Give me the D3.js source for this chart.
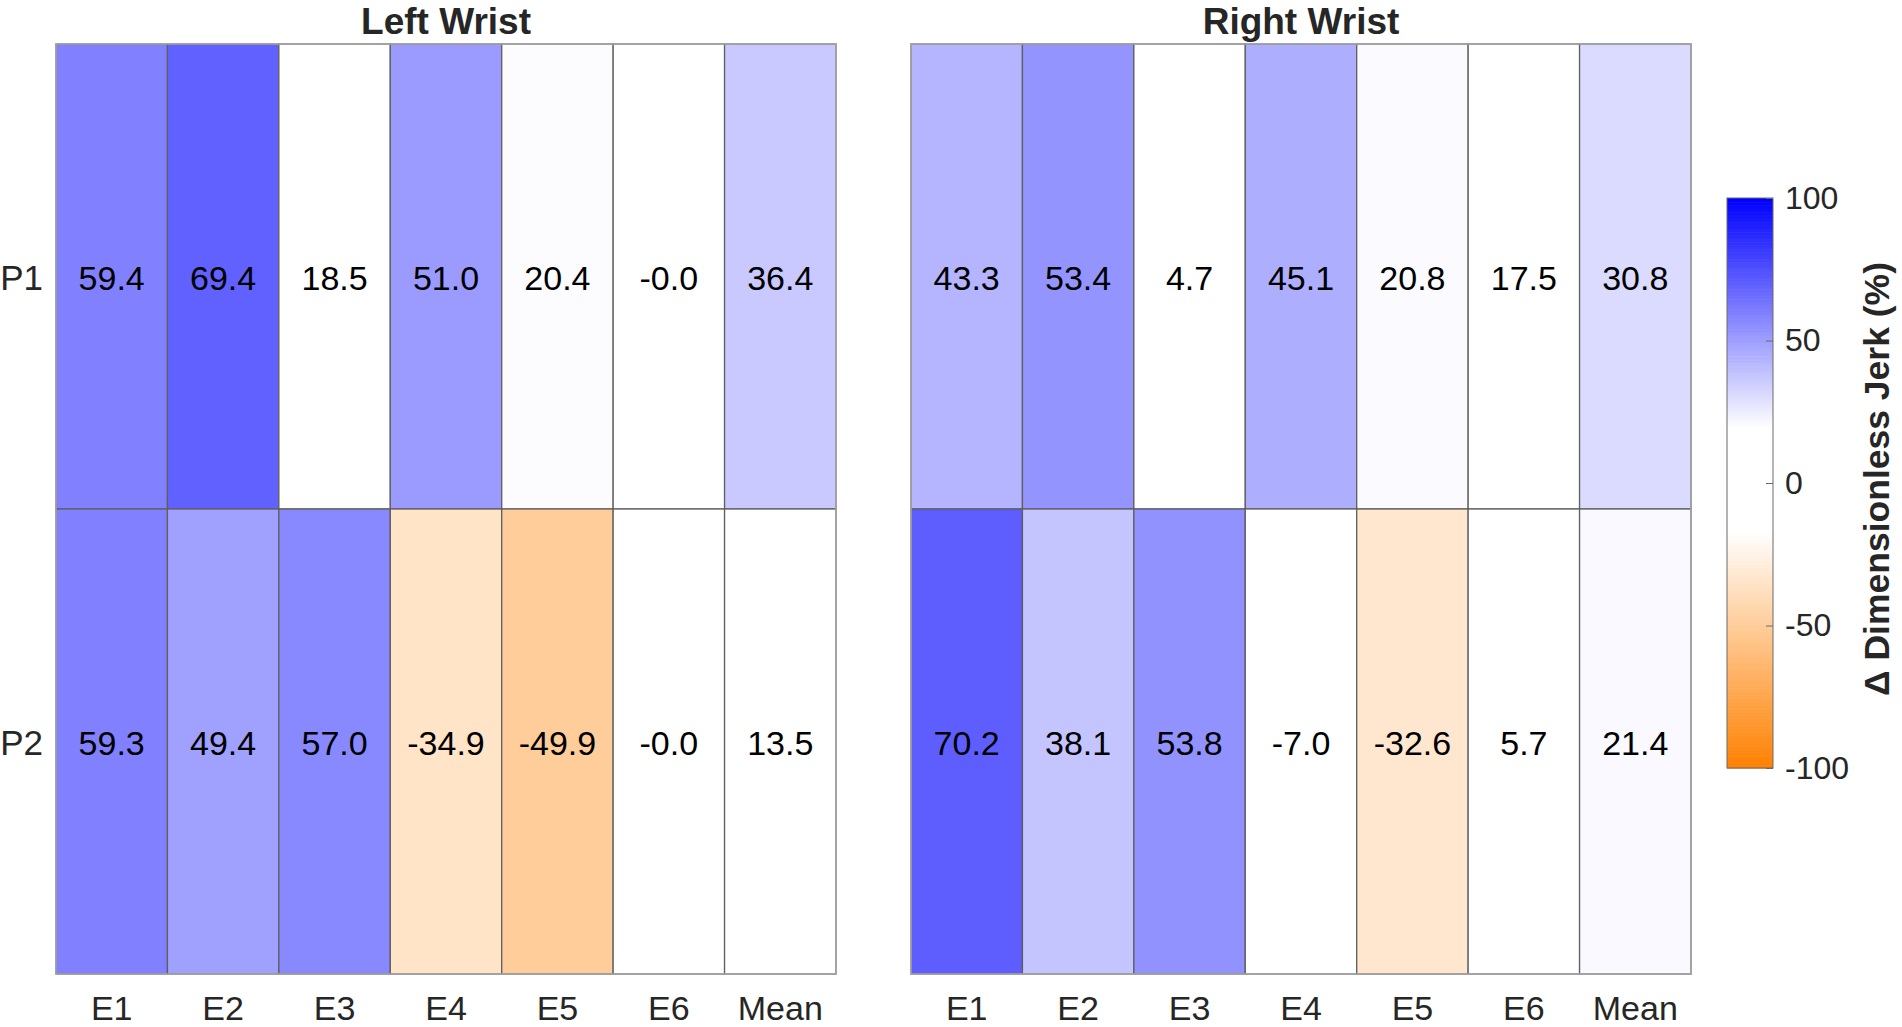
<!DOCTYPE html>
<html>
<head>
<meta charset="utf-8">
<script src="https://cdn.jsdelivr.net/npm/d3@7"></script>
<style>
  body { margin: 0; background: #fff; }
  text { font-family: "Liberation Sans", Arial, sans-serif; }
</style>
</head>
<body>
<svg id="chart" width="1902" height="1027"></svg>
<script>
// data
EXERCISES = ["E1", "E2", "E3", "E4", "E5", "E6", "Mean"]
PARTICIPANTS = ["P1", "P2"]
LEFT_P1 = [59.4, 69.4, 18.5, 51.0, 20.4, -0.0, 36.4]
LEFT_P2 = [59.3, 49.4, 57.0, -34.9, -49.9, -0.0, 13.5]
RIGHT_P1 = [43.3, 53.4, 4.7, 45.1, 20.8, 17.5, 30.8]
RIGHT_P2 = [70.2, 38.1, 53.8, -7.0, -32.6, 5.7, 21.4]
COLORBAR_TICKS = [100, 50, 0, -50, -100]

PANELS = [
  {title: "Left Wrist", rows: [LEFT_P1, LEFT_P2], x0: 56},
  {title: "Right Wrist", rows: [RIGHT_P1, RIGHT_P2], x0: 911}
]

var svg = d3.select("#chart")
var panelWidth = 780
var gridTop = 44, gridBottom = 974

// blue / white / orange map, white band around zero
var color = d3.scaleLinear()
  .domain([-100, -17, 19.5, 100])
  .range(["#ff8000", "#ffffff", "#ffffff", "#0000ff"])
  .clamp(true)

function fmt(v) {
  var s = Math.abs(v).toFixed(1)
  return (v < 0 || Object.is(v, -0)) ? "-" + s : s
}

var y = d3.scaleBand().domain(PARTICIPANTS).range([gridTop, gridBottom])

PANELS.forEach(function(panel) {
  var x = d3.scaleBand().domain(EXERCISES).range([panel.x0, panel.x0 + panelWidth])
  var cells = []
  panel.rows.forEach(function(vals, r) {
    vals.forEach(function(v, c) {
      cells.push({row: PARTICIPANTS[r], col: EXERCISES[c], value: v})
    })
  })

  var g = svg.append("g")

  g.selectAll("rect.cell")
    .data(cells)
    .enter()
    .append("rect")
      .attr("class", "cell")
      .attr("x", function(d) { return x(d.col) })
      .attr("y", function(d) { return y(d.row) })
      .attr("width", x.bandwidth())
      .attr("height", y.bandwidth())
      .attr("fill", function(d) { return color(d.value) })
      .style("stroke", "#5f5f5f")
      .style("stroke-width", 1.3)

  g.append("rect")
    .attr("x", panel.x0)
    .attr("y", gridTop)
    .attr("width", panelWidth)
    .attr("height", gridBottom - gridTop)
    .attr("fill", "none")
    .style("stroke", "#a8a8a8")
    .style("stroke-width", 1.5)

  g.selectAll("text.val")
    .data(cells)
    .enter()
    .append("text")
      .attr("class", "val")
      .attr("x", function(d) { return x(d.col) + x.bandwidth() / 2 })
      .attr("y", function(d) { return y(d.row) + y.bandwidth() / 2 + 13 })
      .attr("text-anchor", "middle")
      .style("font-size", "34px")
      .style("fill", "#000")
      .text(function(d) { return fmt(d.value) })

  // x axis
  var xAxis = g.append("g")
    .attr("transform", "translate(0," + gridBottom + ")")
    .call(d3.axisBottom(x).tickSize(0).tickPadding(22))
  xAxis.select(".domain").remove()
  xAxis.selectAll("text")
    .style("font-size", "34px")
    .style("font-family", "Liberation Sans, Arial, sans-serif")
    .style("fill", "#262626")

  g.append("text")
    .attr("x", panel.x0 + panelWidth / 2)
    .attr("y", 34)
    .attr("text-anchor", "middle")
    .style("font-size", "37px")
    .style("font-weight", "bold")
    .style("fill", "#262626")
    .text(panel.title)
})

// row labels (left panel only)
var yAxis = svg.append("g")
  .attr("transform", "translate(56,0)")
  .call(d3.axisLeft(y).tickSize(0).tickPadding(13))
yAxis.select(".domain").remove()
yAxis.selectAll("text")
  .attr("dy", "0.38em")
  .style("font-size", "35px")
  .style("font-family", "Liberation Sans, Arial, sans-serif")
  .style("fill", "#262626")

// COLORBAR
var cbX = 1727, cbW = 46, cbTop = 198, cbBottom = 768
var cbScale = d3.scaleLinear().domain([-100, 100]).range([cbBottom, cbTop])
var cb = svg.append("g")

cb.selectAll("rect.step")
  .data(d3.range(-100, 100, 0.5))
  .enter()
  .append("rect")
    .attr("class", "step")
    .attr("x", cbX)
    .attr("y", function(d) { return cbScale(d + 0.5) })
    .attr("width", cbW)
    .attr("height", Math.abs(cbScale(0) - cbScale(0.5)) + 0.6)
    .attr("fill", function(d) { return color(d + 0.25) })

cb.append("rect")
  .attr("x", cbX)
  .attr("y", cbTop)
  .attr("width", cbW)
  .attr("height", cbBottom - cbTop)
  .attr("fill", "none")
  .style("stroke", "#6a6a6a")
  .style("stroke-width", 1)

var cbAxis = cb.append("g")
  .attr("transform", "translate(" + (cbX + cbW) + ",0)")
  .call(d3.axisRight(cbScale).tickValues(COLORBAR_TICKS).tickSize(-7).tickPadding(12)
    .tickFormat(function(d) { return String(d) }))
cbAxis.select(".domain").remove()
cbAxis.selectAll("line").style("stroke", "#6a6a6a")
cbAxis.selectAll("text")
  .style("font-size", "32px")
  .style("font-family", "Liberation Sans, Arial, sans-serif")
  .style("fill", "#262626")

svg.append("text")
  .attr("transform", "translate(1889," + ((cbTop + cbBottom) / 2 - 4) + ") rotate(-90)")
  .attr("text-anchor", "middle")
  .style("font-size", "35.5px")
  .style("font-weight", "bold")
  .style("fill", "#262626")
  .text("\u0394 Dimensionless Jerk (%)")
</script>
</body>
</html>
